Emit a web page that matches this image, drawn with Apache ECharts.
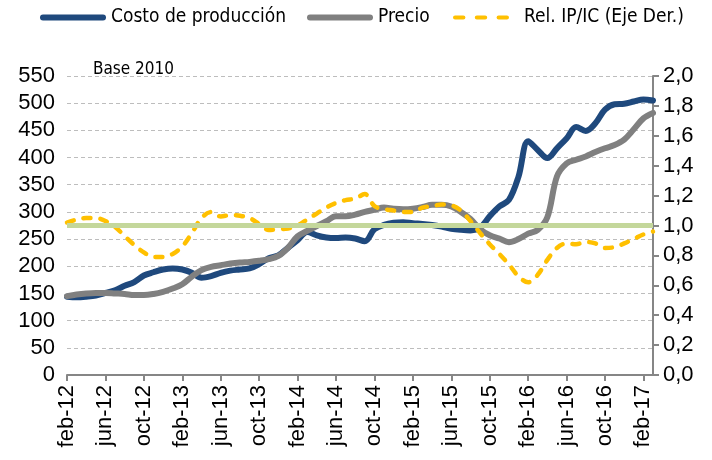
<!DOCTYPE html>
<html>
<head>
<meta charset="utf-8">
<script src="https://cdn.jsdelivr.net/npm/echarts@6/dist/echarts.min.js"></script>
<style>
  html, body { margin: 0; padding: 0; background: #fff; }
  #grafico { width: 712px; height: 460px; }
</style>
</head>
<body>
<div id="grafico"></div>
<script>
  // meses (feb-12 a mar-17)
  const meses = [
    'feb-12', 'mar-12', 'abr-12', 'may-12', 'jun-12', 'jul-12', 'ago-12', 'sep-12', 'oct-12', 'nov-12', 'dic-12',
    'ene-13', 'feb-13', 'mar-13', 'abr-13', 'may-13', 'jun-13', 'jul-13', 'ago-13', 'sep-13', 'oct-13', 'nov-13', 'dic-13',
    'ene-14', 'feb-14', 'mar-14', 'abr-14', 'may-14', 'jun-14', 'jul-14', 'ago-14', 'sep-14', 'oct-14', 'nov-14', 'dic-14',
    'ene-15', 'feb-15', 'mar-15', 'abr-15', 'may-15', 'jun-15', 'jul-15', 'ago-15', 'sep-15', 'oct-15', 'nov-15', 'dic-15',
    'ene-16', 'feb-16', 'mar-16', 'abr-16', 'may-16', 'jun-16', 'jul-16', 'ago-16', 'sep-16', 'oct-16', 'nov-16', 'dic-16',
    'ene-17', 'feb-17', 'mar-17'
  ];

  // indices base 2010 (eje izq.)
  const costo = [
    144, 143, 144, 146, 151, 156, 164, 171, 183, 189, 194,
    196, 194, 188, 179, 182, 188, 192, 194, 196, 204, 215, 220,
    234, 248, 263, 257, 253, 252, 253, 251, 246, 268, 276, 280,
    281, 279, 278, 276, 273, 269, 267, 266, 271, 292, 310, 322,
    365, 430, 414, 399, 417, 435, 456, 449, 463, 488, 498, 499,
    503, 507, 505
  ];
  const precio = [
    145, 148, 150, 151, 151, 150, 149, 147, 147, 149, 153,
    159, 167, 181, 193, 199, 202, 205, 207, 208, 210, 213, 219,
    234, 255, 265, 274, 283, 292, 292, 295, 300, 304, 308, 306,
    305, 306, 309, 313, 313, 310, 300, 287, 268, 257, 251, 244,
    250, 260, 267, 290, 365, 389, 396, 402, 410, 417, 423, 433,
    452, 472, 482
  ];
  // relacion IP/IC (eje der.)
  const relacion = [
    1.02, 1.04, 1.05, 1.05, 1.03, 0.99, 0.93, 0.87, 0.82, 0.79, 0.79,
    0.81, 0.86, 0.95, 1.05, 1.09, 1.06, 1.07, 1.065, 1.05, 1.01, 0.97, 0.975,
    0.98, 1.0, 1.04, 1.08, 1.12, 1.15, 1.17, 1.18, 1.21, 1.13, 1.11, 1.10,
    1.09, 1.09, 1.12, 1.13, 1.14, 1.135, 1.10, 1.03, 0.95, 0.875, 0.81, 0.74,
    0.66, 0.62, 0.67, 0.77, 0.85, 0.88, 0.875, 0.89, 0.88, 0.85, 0.855, 0.88,
    0.91, 0.94, 0.96
  ];
  const nivelReferencia = 1.0;

  const fuenteTexto = '"DejaVu Sans Condensed", "DejaVu Sans", sans-serif';
  const fuenteEjes = '"Liberation Sans", Arial, sans-serif';
  const grisEje = '#868686';

  // iconos de leyenda: barra redondeada y tres guiones
  const iconoBarra = 'path://M3,0H63A3,3 0 0 1 63,6H3A3,3 0 0 1 3,0Z';
  const iconoGuiones = 'path://M2,0H10A2,2 0 0 1 10,4H2A2,2 0 0 1 2,0Z' +
    'M23,0H31A2,2 0 0 1 31,4H23A2,2 0 0 1 23,0Z' +
    'M44,0H52A2,2 0 0 1 52,4H44A2,2 0 0 1 44,0Z';

  let chart = echarts.init(document.getElementById('grafico'));

  const textoLeyenda = {fontFamily: fuenteTexto, fontSize: 19, color: '#000'};

  const option = {
    animation: false,
    title: {
      text: 'Base 2010',
      left: 88,
      top: 56,
      textStyle: {fontFamily: fuenteTexto, fontSize: 17, fontWeight: 'normal', color: '#000'}
    },
    legend: [
      {data: ['Costo de producción'], left: 40, top: 8, padding: 0, icon: iconoBarra,
        itemWidth: 66, itemHeight: 6, textStyle: textoLeyenda},
      {data: ['Precio'], left: 307, top: 8, padding: 0, icon: iconoBarra,
        itemWidth: 66, itemHeight: 6, textStyle: textoLeyenda},
      {data: ['Rel. IP/IC (Eje Der.)'], left: 453, top: 8, padding: 0, icon: iconoGuiones,
        itemWidth: 56, itemHeight: 5,
        textStyle: Object.assign({}, textoLeyenda, {padding: [0, 0, 0, 10]})}
    ],
    grid: {left: 67, right: 59, top: 76, bottom: 85},
    xAxis: {
      type: 'category',
      boundaryGap: false,
      data: meses,
      axisLine: {lineStyle: {color: grisEje, width: 2}},
      axisTick: {interval: 3, length: 6, lineStyle: {color: grisEje, width: 2}},
      axisLabel: {
        interval: 3,
        rotate: 90,
        margin: 10,
        fontFamily: fuenteEjes,
        fontSize: 22,
        color: '#000'
      }
    },
    yAxis: [
      {
        type: 'value',
        min: 0,
        max: 550,
        interval: 50,
        axisLine: {show: false},
        axisTick: {show: false},
        axisLabel: {margin: 12, fontFamily: fuenteEjes, fontSize: 22, color: '#000'},
        splitLine: {lineStyle: {color: '#bdbdbd', width: 1, type: [4, 3]}}
      },
      {
        type: 'value',
        position: 'right',
        min: 0,
        max: 2,
        interval: 0.2,
        axisLine: {show: true, lineStyle: {color: grisEje, width: 2}},
        axisTick: {show: true, length: 6, lineStyle: {color: grisEje, width: 2}},
        axisLabel: {
          margin: 10,
          fontFamily: fuenteEjes,
          fontSize: 22,
          color: '#000',
          formatter: function (v) { return v.toFixed(1).replace('.', ','); }
        },
        splitLine: {show: false}
      }
    ],
    series: [
      {
        name: 'Referencia',
        type: 'line',
        yAxisIndex: 1,
        data: [],
        silent: true,
        markLine: {
          silent: true,
          symbol: 'none',
          label: {show: false},
          lineStyle: {color: '#c4d79b', width: 5, type: 'solid'},
          data: [{yAxis: nivelReferencia}]
        }
      },
      {
        name: 'Costo de producción',
        type: 'line',
        data: costo,
        smooth: 0.35,
        symbol: 'none',
        color: '#1f497d',
        lineStyle: {width: 6, color: '#1f497d', cap: 'round'}
      },
      {
        name: 'Precio',
        type: 'line',
        data: precio,
        smooth: 0.35,
        symbol: 'none',
        color: '#808080',
        lineStyle: {width: 6, color: '#808080', cap: 'round'}
      },
      {
        name: 'Rel. IP/IC (Eje Der.)',
        type: 'line',
        yAxisIndex: 1,
        data: relacion,
        smooth: 0.35,
        symbol: 'none',
        color: '#ffc000',
        lineStyle: {width: 4.5, color: '#ffc000', type: [7, 10], cap: 'round'}
      }
    ]
  };

  chart.setOption(option, true);
</script>
</body>
</html>
